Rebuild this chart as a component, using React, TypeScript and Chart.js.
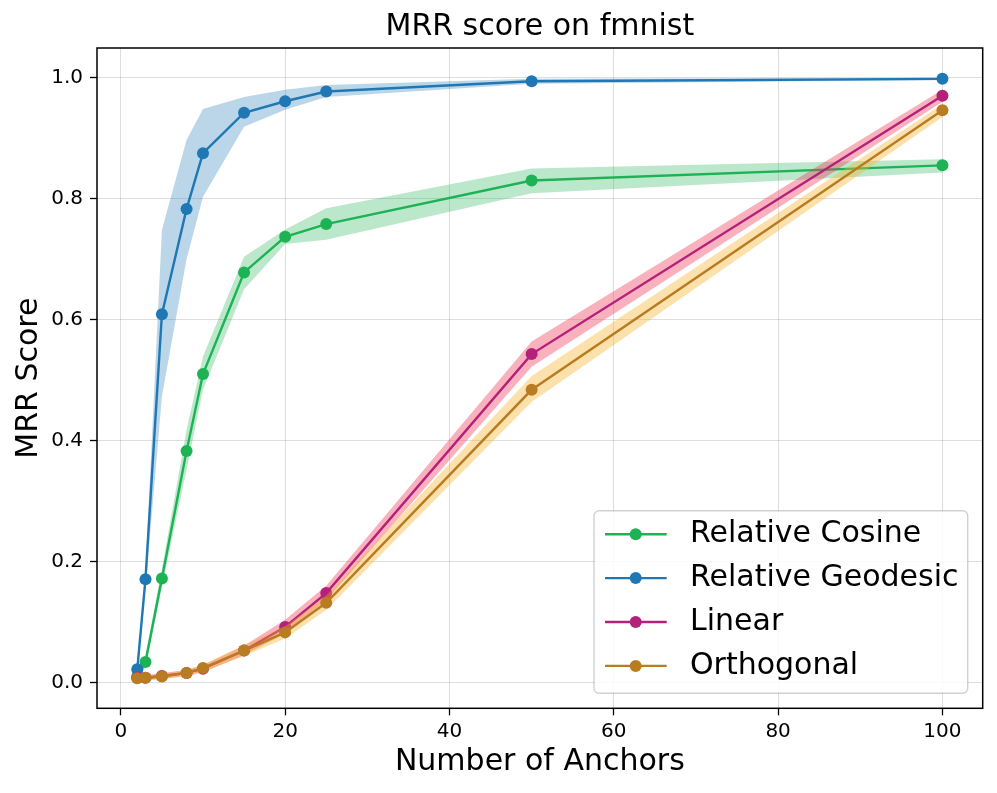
import React, { useEffect, useRef } from 'react';
import { Chart, registerables } from 'chart.js';

Chart.register(...registerables);

const anchors = [2, 3, 5, 8, 10, 15, 20, 25, 50, 100];

const seriesNames = ['Relative Cosine', 'Relative Geodesic', 'Linear', 'Orthogonal'];

const cosineMean = [0.010, 0.034, 0.172, 0.383, 0.510, 0.678, 0.737, 0.758, 0.830, 0.855];
const cosineLow = [0.005, 0.025, 0.158, 0.352, 0.484, 0.650, 0.725, 0.732, 0.809, 0.843];
const cosineHigh = [0.015, 0.045, 0.188, 0.418, 0.539, 0.704, 0.749, 0.784, 0.850, 0.865];

const geodesicMean = [0.022, 0.171, 0.609, 0.783, 0.875, 0.942, 0.961, 0.977, 0.994, 0.998];
const geodesicLow = [0.012, 0.155, 0.473, 0.700, 0.803, 0.919, 0.947, 0.968, 0.990, 0.996];
const geodesicHigh = [0.032, 0.185, 0.748, 0.897, 0.948, 0.968, 0.980, 0.988, 0.998, 1.000];

const linearMean = [0.008, 0.008, 0.011, 0.016, 0.023, 0.053, 0.092, 0.148, 0.543, 0.970];
const linearLow = [0.004, 0.004, 0.006, 0.011, 0.017, 0.045, 0.081, 0.136, 0.522, 0.960];
const linearHigh = [0.012, 0.012, 0.016, 0.021, 0.029, 0.061, 0.104, 0.160, 0.564, 0.980];

const orthoMean = [0.007, 0.008, 0.010, 0.016, 0.024, 0.053, 0.083, 0.132, 0.484, 0.946];
const orthoLow = [0.003, 0.004, 0.006, 0.011, 0.018, 0.044, 0.073, 0.120, 0.464, 0.935];
const orthoHigh = [0.011, 0.012, 0.014, 0.021, 0.030, 0.062, 0.093, 0.144, 0.507, 0.956];

const xTicks = [0, 20, 40, 60, 80, 100];
const yTicks = [0.0, 0.2, 0.4, 0.6, 0.8, 1.0];

const lineColors = ['#1db354', '#1f77b4', '#b5207a', '#b87d22'];
const bandColors = [
  'rgba(29,179,84,0.30)',
  'rgba(31,119,180,0.30)',
  'rgba(240,60,90,0.40)',
  'rgba(250,175,40,0.38)',
];

const means = [cosineMean, geodesicMean, linearMean, orthoMean];
const lows = [cosineLow, geodesicLow, linearLow, orthoLow];
const highs = [cosineHigh, geodesicHigh, linearHigh, orthoHigh];

const FONT = "'DejaVu Sans', sans-serif";

const toPts = (ys: number[]) => anchors.map((x, i) => ({ x, y: ys[i] }));

const framePlugin = {
  id: 'frame',
  afterDraw(chart: any) {
    const { ctx, chartArea } = chart;
    ctx.save();
    ctx.strokeStyle = '#000';
    ctx.lineWidth = 1.5;
    ctx.strokeRect(chartArea.left, chartArea.top, chartArea.right - chartArea.left, chartArea.bottom - chartArea.top);
    ctx.restore();
  },
};

const legendPlugin = {
  id: 'customLegend',
  afterDraw(chart: any) {
    const { ctx, chartArea } = chart;
    const w = 373.7;
    const h = 182.6;
    const right = chartArea.right - 15;
    const bottom = chartArea.bottom - 15;
    const left = right - w;
    const top = bottom - h;
    ctx.save();
    ctx.beginPath();
    ctx.roundRect(left, top, w, h, 5);
    ctx.fillStyle = 'rgba(255,255,255,0.85)';
    ctx.fill();
    ctx.strokeStyle = 'rgba(0,0,0,0.18)';
    ctx.lineWidth = 1.4;
    ctx.stroke();
    const rowStart = top + 23.5;
    const rowGap = 43.9;
    seriesNames.forEach((name, i) => {
      const y = rowStart + i * rowGap;
      ctx.strokeStyle = lineColors[i];
      ctx.lineWidth = 2.4;
      ctx.beginPath();
      ctx.moveTo(left + 11, y);
      ctx.lineTo(left + 72.7, y);
      ctx.stroke();
      ctx.fillStyle = lineColors[i];
      ctx.beginPath();
      ctx.arc(left + 41.7, y, 6, 0, Math.PI * 2);
      ctx.fill();
      ctx.fillStyle = '#000';
      ctx.font = `30px ${FONT}`;
      ctx.textBaseline = 'middle';
      ctx.textAlign = 'left';
      ctx.fillText(name, left + 96, y);
    });
    ctx.restore();
  },
};

export default function App() {
  const ref = useRef<HTMLCanvasElement>(null);

  useEffect(() => {
    if (!ref.current) return;
    const datasets: any[] = [];
    for (let i = 0; i < 4; i++) {
      const base = 8 - 2 * i;
      datasets.push({
        label: seriesNames[i] + ' upper',
        data: toPts(highs[i]),
        borderWidth: 0,
        pointRadius: 0,
        backgroundColor: bandColors[i],
        fill: '+1',
        order: base,
      });
      datasets.push({
        label: seriesNames[i] + ' lower',
        data: toPts(lows[i]),
        borderWidth: 0,
        pointRadius: 0,
        fill: false,
        order: base,
      });
      datasets.push({
        label: seriesNames[i],
        data: toPts(means[i]),
        borderColor: lineColors[i],
        backgroundColor: lineColors[i],
        borderWidth: 2.4,
        pointRadius: 6,
        pointBorderWidth: 0,
        pointBackgroundColor: lineColors[i],
        fill: false,
        order: base - 1,
      });
    }

    const chart = new Chart(ref.current, {
      type: 'line',
      data: { datasets },
      plugins: [framePlugin, legendPlugin],
      options: {
        animation: false,
        responsive: true,
        maintainAspectRatio: false,
        layout: { padding: { left: 0, right: 14.3, top: 0, bottom: 0 } },
        plugins: {
          legend: { display: false },
          tooltip: { enabled: false },
          title: {
            display: true,
            text: 'MRR score on fmnist',
            fullSize: false,
            color: '#000',
            font: { family: FONT, size: 30, weight: 'normal' },
            padding: { top: 9, bottom: 3 },
          },
        },
        scales: {
          x: {
            type: 'linear',
            min: -2.9,
            max: 104.9,
            afterFit: (scale: any) => { scale.height = 84.7; },
            afterBuildTicks: (scale: any) => { scale.ticks = xTicks.map((v) => ({ value: v })); },
            ticks: {
              color: '#000',
              font: { family: FONT, size: 20 },
              padding: 4,
              maxRotation: 0,
              callback: (v: any) => String(v),
            },
            grid: {
              color: 'rgba(0,0,0,0.13)',
              lineWidth: 1,
              tickColor: '#000',
              tickLength: 7,
              tickWidth: 1.3,
            },
            border: { display: false },
            title: {
              display: true,
              text: 'Number of Anchors',
              color: '#000',
              font: { family: FONT, size: 30 },
              padding: { top: 0, bottom: 13 },
            },
          },
          y: {
            type: 'linear',
            min: -0.0425,
            max: 1.049,
            afterFit: (scale: any) => { scale.width = 97; },
            afterBuildTicks: (scale: any) => { scale.ticks = yTicks.map((v) => ({ value: v })); },
            ticks: {
              color: '#000',
              font: { family: FONT, size: 20 },
              padding: 7,
              callback: (v: any) => Number(v).toFixed(1),
            },
            grid: {
              color: 'rgba(0,0,0,0.13)',
              lineWidth: 1,
              tickColor: '#000',
              tickLength: 7,
              tickWidth: 1.3,
            },
            border: { display: false },
            title: {
              display: true,
              text: 'MRR Score',
              color: '#000',
              font: { family: FONT, size: 30 },
              padding: { top: 11, bottom: 0 },
            },
          },
        },
      } as any,
    });
    return () => chart.destroy();
  }, []);

  return (
    <div style={{ position: 'fixed', left: 0, top: 0, width: 997, height: 793, background: '#fff' }}>
      <canvas ref={ref} />
    </div>
  );
}
